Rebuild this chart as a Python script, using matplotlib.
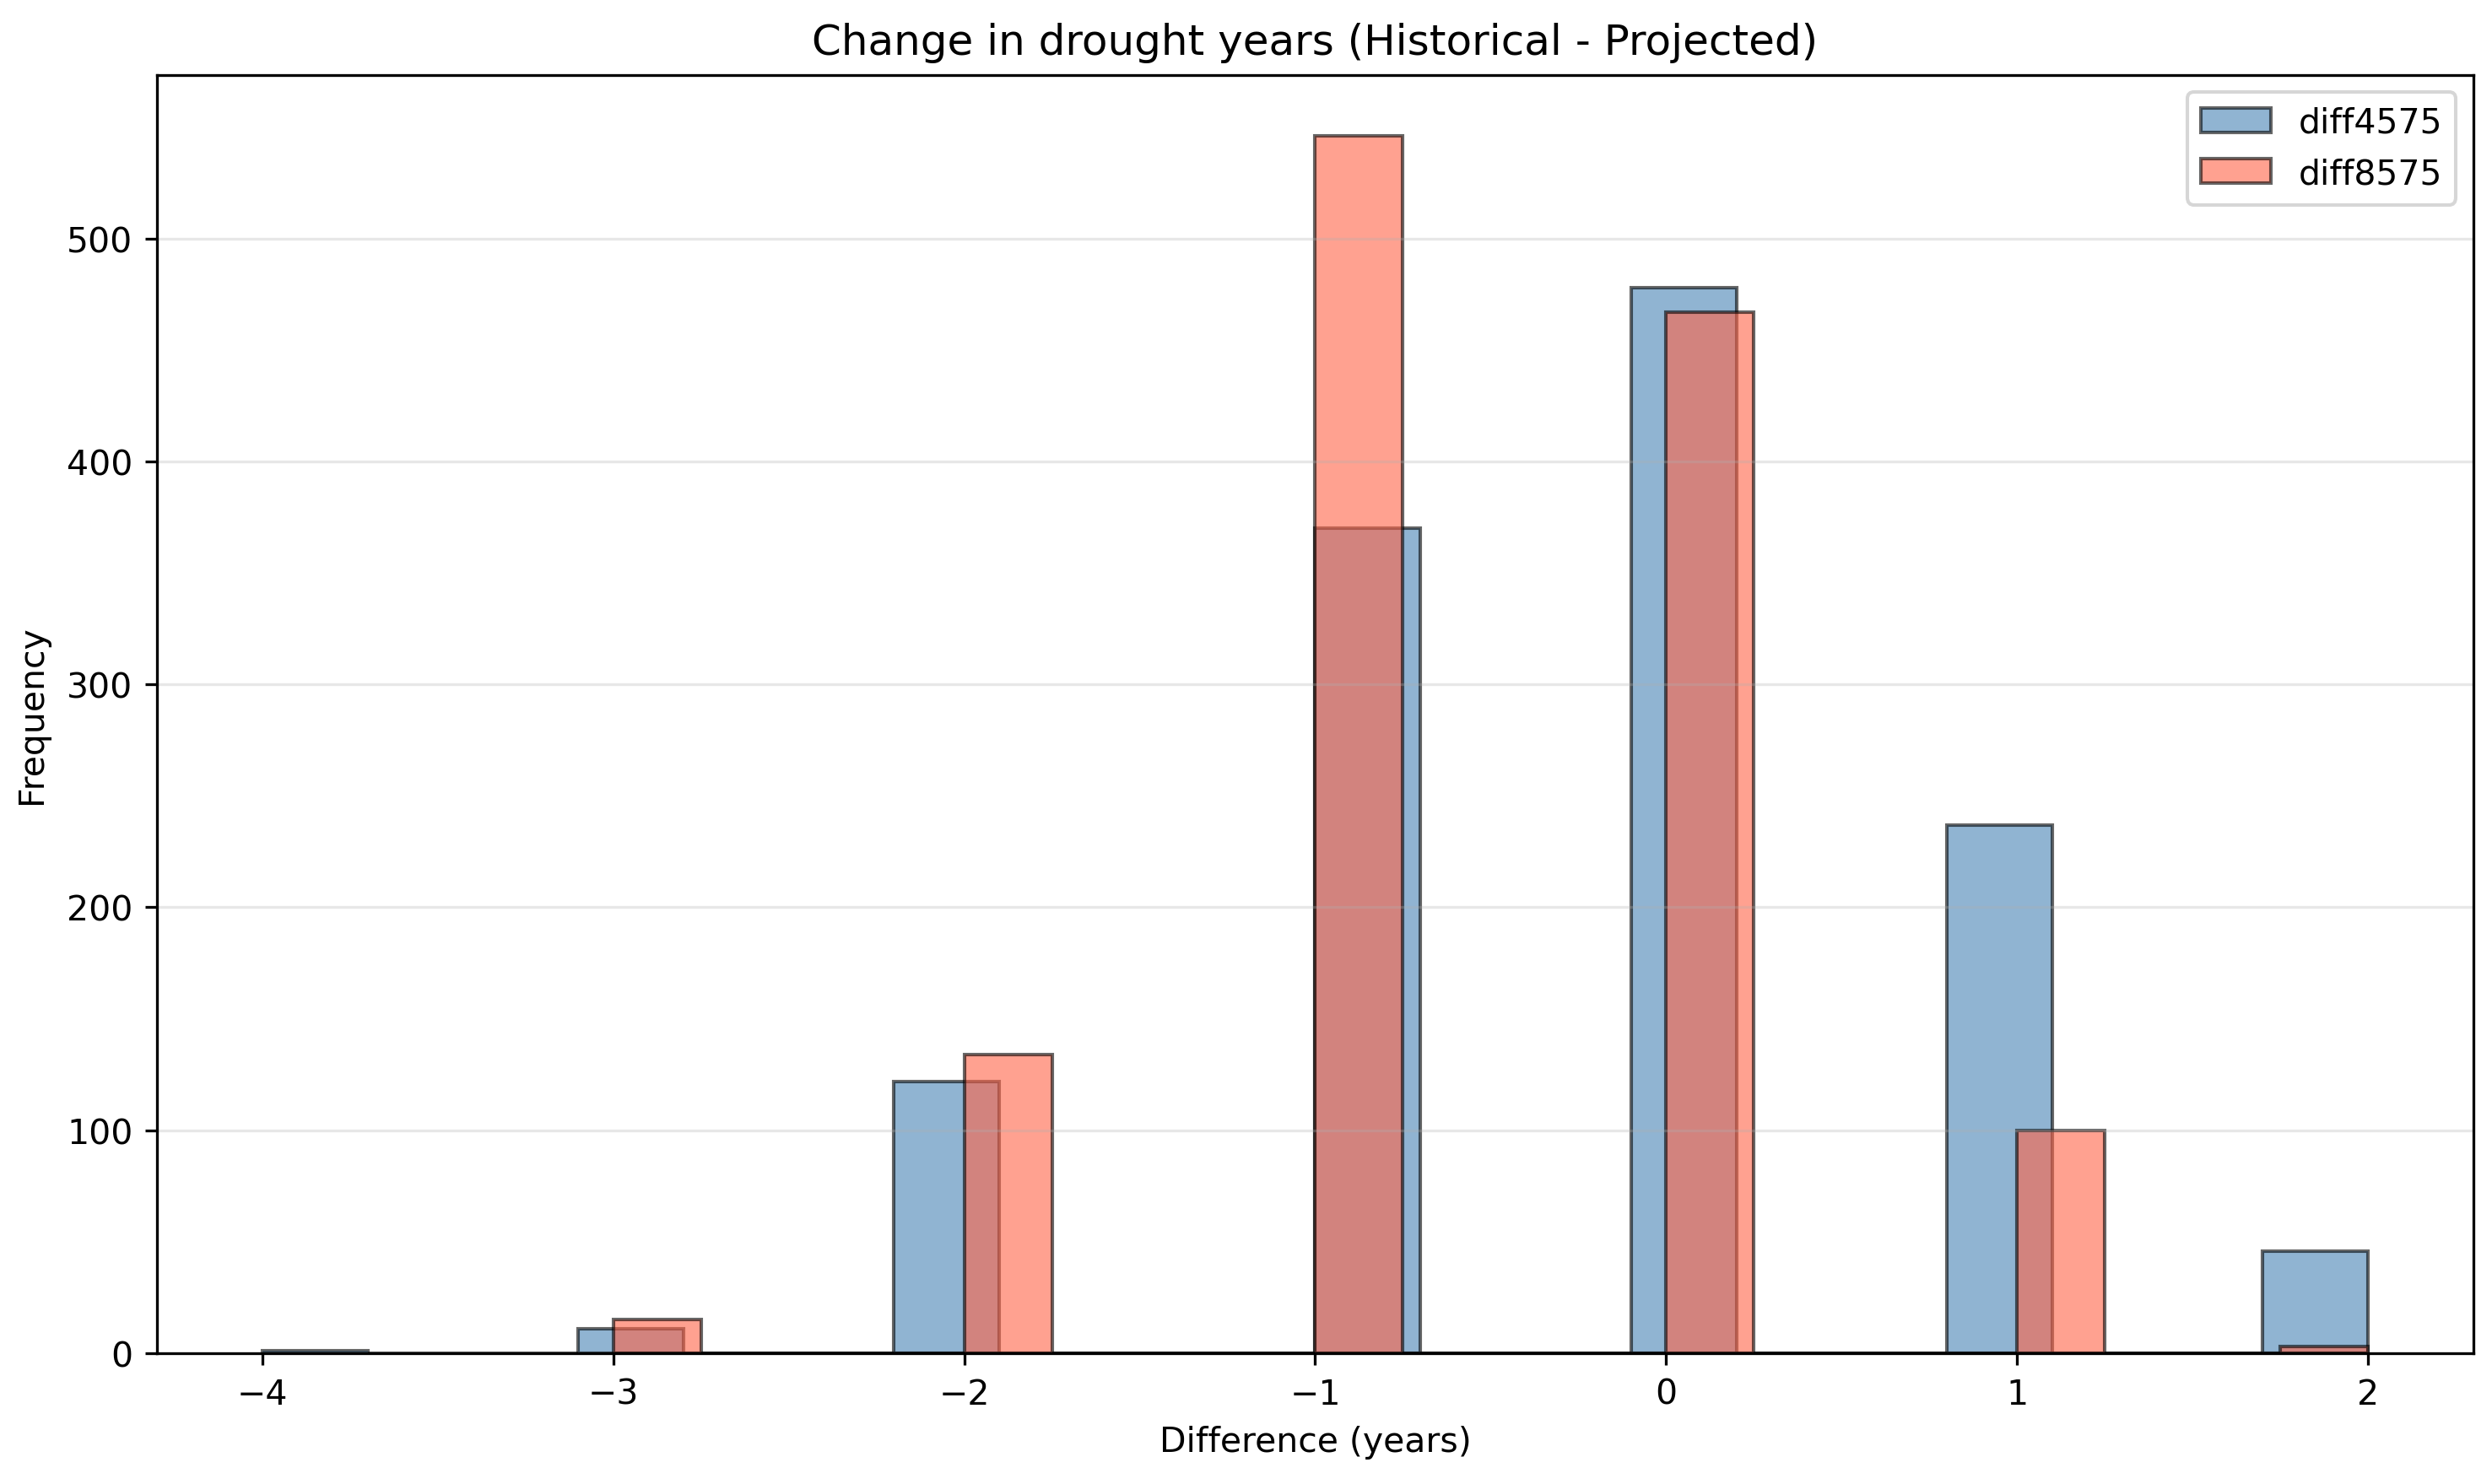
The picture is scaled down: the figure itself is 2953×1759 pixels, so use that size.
import matplotlib
matplotlib.use('Agg')
import matplotlib.pyplot as plt

# Change in drought years (values) and how many cells had each value
diff_values_4575 = [-4, -3, -2, -1, 0, 1, 2]
diff_counts_4575 = [1, 11, 122, 370, 478, 237, 46]

diff_values_8575 = [-3, -2, -1, 0, 1, 2]
diff_counts_8575 = [15, 134, 546, 467, 100, 3]

fig, ax = plt.subplots(figsize=(10, 5.96), dpi=295.3)

ax.hist(diff_values_4575, bins=20, weights=diff_counts_4575, alpha=0.6,
        color='steelblue', edgecolor='black', label='diff4575')
ax.hist(diff_values_8575, bins=20, weights=diff_counts_8575, alpha=0.6,
        color='tomato', edgecolor='black', label='diff8575')

ax.set_title('Change in drought years (Historical - Projected)', fontsize=12.2)
ax.set_xlabel('Difference (years)')
ax.set_ylabel('Frequency', labelpad=5)
ax.legend(loc='upper right')
ax.grid(axis='y', alpha=0.3)

fig.subplots_adjust(left=0.063, right=0.9925, top=0.949, bottom=0.088)
plt.savefig('out.png', dpi=295.3)
